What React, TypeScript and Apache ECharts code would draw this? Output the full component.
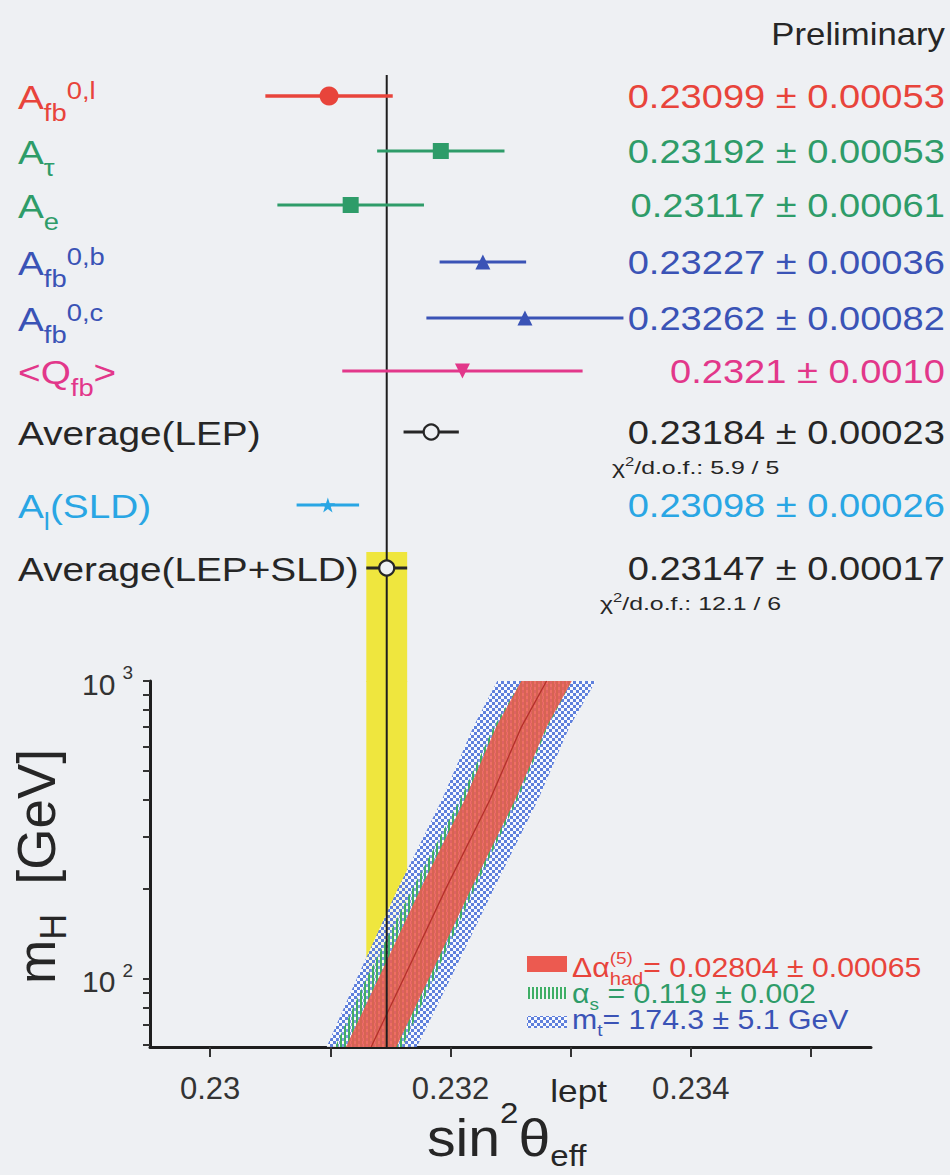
import React, { useEffect, useRef } from 'react';
import * as echarts from 'echarts';

// ---------------- data ----------------
const measurementValues = [0.23099, 0.23192, 0.23117, 0.23227, 0.23262, 0.2321, 0.23184, 0.23098, 0.23147];
const measurementErrors = [0.00053, 0.00053, 0.00061, 0.00036, 0.00082, 0.001, 0.00023, 0.00026, 0.00017];
const valueDecimals = [5, 5, 5, 5, 5, 4, 5, 5, 5];
type Part = { t: string; k?: 'sub' | 'sup' | 'subStack'; fs?: number; dy?: number };
const measurementLabels: Part[][] = [
  [{ t: 'A' }, { t: 'fb', k: 'sub' }, { t: '0,l', k: 'sup' }],
  [{ t: 'A' }, { t: 'τ', k: 'sub' }],
  [{ t: 'A' }, { t: 'e', k: 'sub' }],
  [{ t: 'A' }, { t: 'fb', k: 'sub' }, { t: '0,b', k: 'sup' }],
  [{ t: 'A' }, { t: 'fb', k: 'sub' }, { t: '0,c', k: 'sup' }],
  [{ t: '<' }, { t: 'Q' }, { t: 'fb', k: 'sub' }, { t: '>' }],
  [{ t: 'Average(LEP)' }],
  [{ t: 'A' }, { t: 'l', k: 'sub' }, { t: '(SLD)' }],
  [{ t: 'Average(LEP+SLD)' }],
];
const chi2Rows = [6, 8];
const chi2Values = ['5.9 / 5', '12.1 / 6'];

const X_MIN = 0.2295;
const X_MAX = 0.2355;
const xTickValues = [0.23, 0.231, 0.232, 0.233, 0.234, 0.235];
const xLabelValues = [0.23, 0.232, 0.234];
const MH_MIN = 59;
const MH_MAX = 1000;
const mHTickValues = [60, 70, 80, 90, 100, 200, 300, 400, 500, 600, 700, 800, 900, 1000];
const mHLabelValues = [100, 1000];

const bandMH = [59, 100, 200, 400, 700, 1000];
const alphaHadLo = [0.23113, 0.2314, 0.23175, 0.23212, 0.23238, 0.23259];
const alphaHadHi = [0.23155, 0.23182, 0.23217, 0.23254, 0.2328, 0.23301];
const alphaSLo = [0.23104, 0.2313, 0.23168, 0.23208, 0.23236, 0.23259];
const alphaSHi = [0.2316, 0.23186, 0.2322, 0.23256, 0.23281, 0.23301];
const mTopLo = [0.23097, 0.23122, 0.23156, 0.23193, 0.23219, 0.23239];
const mTopHi = [0.23172, 0.232, 0.23236, 0.23273, 0.23299, 0.23321];
const legendValues = ['= 0.02804 ± 0.00065', '= 0.119 ± 0.002', '= 174.3 ± 5.1 GeV'];

// ---------------- layout & style ----------------
const FONT = '"Liberation Sans", Arial, Helvetica, sans-serif';
const BG = '#eef0f3';
const RED = '#e8443b';
const GREEN = '#2e9c69';
const BLUE = '#3a53b6';
const MAGENTA = '#e2378a';
const CYAN = '#29a6e4';
const BLACK = '#262626';
const YELLOW = '#efe63e';
const rowColors = [RED, GREEN, GREEN, BLUE, BLUE, MAGENTA, BLACK, CYAN, BLACK];
const STAR = 'path://M50 0L61.8 35.1L98.1 35.1L68.7 56.8L79.9 91.9L50 70.2L20.1 91.9L31.3 56.8L1.9 35.1L38.2 35.1Z';
const rowSymbols = ['circle', 'rect', 'rect', 'triangle', 'triangle', 'triangle', 'circle', STAR, 'circle'];
const rowSymbolSize = [19, 16, 16, 15, 15, 15, 15, 15, 15];
const rowSymbolRotate = [0, 0, 0, 0, 0, 180, 0, 0, 0];
const rowHollow = [false, false, false, false, false, false, true, false, true];
const ROW_Y = [96, 151, 205, 262, 318, 371, 432, 505, 568];
const GRID_LEFT = 150;
const GRID_WIDTH = 721;
const TOP_Y0 = 60;
const JOIN_Y = 681;
const BOTTOM_Y = 1047;
const LINE_TOP = 75;
const YELLOW_TOP = 552;

let measureCtx: CanvasRenderingContext2D | null = null;
function measure(t: string, fs: number) {
  if (!measureCtx) measureCtx = document.createElement('canvas').getContext('2d');
  measureCtx!.font = `${fs}px ${FONT}`;
  return measureCtx!.measureText(t).width;
}

function compose(
  parts: Part[],
  o: { x: number; baseline: number; color: string; fs: number; subFs?: number; subDy?: number; supDy?: number; align?: string; scaleX?: number; rotation?: number; z?: number }
) {
  const subFs = o.subFs ?? Math.round(o.fs * 0.68);
  const subDy = o.subDy ?? o.fs * 0.36;
  const supDy = o.supDy ?? -o.fs * 0.33;
  let cx = 0;
  let prevX = 0;
  const children: any[] = [];
  for (const p of parts) {
    const size = p.fs ?? (p.k ? subFs : o.fs);
    const dy = p.dy ?? (p.k === 'sub' || p.k === 'subStack' ? subDy : p.k === 'sup' ? supDy : 0);
    const px = p.k === 'subStack' ? prevX : cx;
    const w = measure(p.t, size);
    children.push({
      type: 'text',
      x: px,
      y: dy - 0.35 * size,
      style: { text: p.t, fontSize: size, fontFamily: FONT, fill: o.color, align: 'left', verticalAlign: 'middle' },
    });
    prevX = px;
    cx = Math.max(cx, px + w);
  }
  const sx = o.scaleX ?? 1;
  const gx = o.align === 'right' ? o.x - cx * sx : o.align === 'center' ? o.x - (cx * sx) / 2 : o.x;
  return { type: 'group', x: gx, y: o.baseline, scaleX: sx, rotation: o.rotation ?? 0, z: o.z ?? 10, children };
}

function makePattern(kind: 'blue' | 'green') {
  const c = document.createElement('canvas');
  const g = c.getContext('2d')!;
  if (kind === 'blue') {
    c.width = 6;
    c.height = 6;
    g.fillStyle = 'rgba(250,251,255,0.85)';
    g.fillRect(0, 0, 6, 6);
    g.fillStyle = '#5f80dc';
    g.fillRect(0, 0, 3, 3);
    g.fillRect(3, 3, 3, 3);
  } else {
    c.width = 4;
    c.height = 4;
    g.fillStyle = 'rgba(255,255,255,0.2)';
    g.fillRect(0, 0, 4, 4);
    g.fillStyle = '#3fae66';
    g.fillRect(0, 0, 2, 4);
  }
  return { image: c, repeat: 'repeat' };
}

function bandSeries(lo: number[], hi: number[], fill: any, z: number, opacity = 1) {
  return {
    type: 'custom',
    xAxisIndex: 1,
    yAxisIndex: 1,
    z,
    silent: true,
    encode: { x: [0, 1], y: 2 },
    data: bandMH.map((m, i) => [lo[i], hi[i], m]),
    renderItem: (params: any, api: any) => {
      if (params.dataIndex !== 0) return { type: 'group', children: [] };
      const n = bandMH.length;
      const left: number[][] = [];
      const right: number[][] = [];
      for (let i = 0; i < n; i++) {
        left.push(api.coord([api.value(0, i), api.value(2, i)]));
        right.push(api.coord([api.value(1, i), api.value(2, i)]));
      }
      return { type: 'polygon', shape: { points: left.concat(right.reverse()) }, style: { fill, opacity } };
    },
  };
}

function buildOption() {
  const n = measurementValues.length;
  const avgIdx = n - 1;
  const avg = measurementValues[avgIdx];
  const avgErr = measurementErrors[avgIdx];
  const bluePat = makePattern('blue');
  const greenPat = makePattern('green');

  const graphics: any[] = [];
  graphics.push(compose([{ t: 'Preliminary' }], { x: 945, baseline: 45, color: BLACK, fs: 31, align: 'right', scaleX: 1.12 }));
  for (let i = 0; i < n; i++) {
    graphics.push(
      compose(measurementLabels[i], { x: 18, baseline: ROW_Y[i] + 13, color: rowColors[i], fs: 34, subFs: 24, subDy: 12, supDy: -10, scaleX: 1.14 })
    );
    const d = valueDecimals[i];
    graphics.push(
      compose([{ t: `${measurementValues[i].toFixed(d)} ± ${measurementErrors[i].toFixed(d)}` }], {
        x: 945, baseline: ROW_Y[i] + 12, color: rowColors[i], fs: 34, align: 'right', scaleX: 1.12,
      })
    );
  }
  chi2Rows.forEach((r, j) => {
    graphics.push(
      compose([{ t: 'χ' }, { t: '2', k: 'sup' }, { t: `/d.o.f.: ${chi2Values[j]}` }], {
        x: j === 0 ? 612 : 600, baseline: ROW_Y[r] + 42, color: BLACK, fs: 18, subFs: 12, supDy: -8, scaleX: 1.38,
      })
    );
  });
  // legend
  const swatches = [
    { y: 956, h: 16, fill: '#ec5a50' },
    { y: 987, h: 12, fill: greenPat },
    { y: 1016, h: 12, fill: bluePat },
  ];
  swatches.forEach((s) => graphics.push({ type: 'rect', shape: { x: 527, y: s.y, width: 40, height: s.h }, style: { fill: s.fill }, z: 10 }));
  graphics.push(compose([{ t: 'Δα' }, { t: '(5)', k: 'sup', fs: 17, dy: -13 }, { t: 'had', k: 'subStack', fs: 18, dy: 8 }, { t: legendValues[0] }], { x: 572, baseline: 977, color: RED, fs: 27, scaleX: 1.12 }));
  graphics.push(compose([{ t: 'α' }, { t: 's', k: 'sub' }, { t: ' ' + legendValues[1] }], { x: 572, baseline: 1003, color: GREEN, fs: 27, subFs: 17, subDy: 7, scaleX: 1.12 }));
  graphics.push(compose([{ t: 'm' }, { t: 't', k: 'sub' }, { t: legendValues[2] }], { x: 572, baseline: 1029, color: BLUE, fs: 27, subFs: 17, subDy: 7, scaleX: 1.12 }));
  // axis titles
  graphics.push(
    compose([{ t: 'sin' }, { t: '2', k: 'sup', fs: 30, dy: -34 }, { t: 'θ' }, { t: 'lept', k: 'sup', fs: 32, dy: -55 }, { t: 'eff', k: 'subStack', fs: 30, dy: 9 }], {
      x: 427, baseline: 1157, color: BLACK, fs: 52, scaleX: 1.1,
    })
  );
  graphics.push(
    compose([{ t: 'm' }, { t: 'H', k: 'sub', fs: 36, dy: 11 }, { t: '  [GeV]' }], {
      x: 55, baseline: 984, color: BLACK, fs: 53, rotation: Math.PI / 2,
    })
  );

  const series: any[] = [
    {
      type: 'custom', xAxisIndex: 0, yAxisIndex: 0, z: 1, silent: true,
      encode: { x: [0, 1], y: 2 },
      data: [[avg - avgErr, avg + avgErr, YELLOW_TOP]],
      renderItem: (_p: any, api: any) => {
        const a = api.coord([api.value(0), YELLOW_TOP]);
        const b = api.coord([api.value(1), JOIN_Y]);
        return { type: 'rect', shape: { x: a[0], y: a[1], width: b[0] - a[0], height: b[1] - a[1] + 1 }, style: { fill: YELLOW } };
      },
    },
    {
      type: 'custom', xAxisIndex: 1, yAxisIndex: 1, z: 1, silent: true,
      encode: { x: [0, 1], y: [2, 3] },
      data: [[avg - avgErr, avg + avgErr, MH_MIN, MH_MAX]],
      renderItem: (_p: any, api: any) => {
        const a = api.coord([api.value(0), api.value(3)]);
        const b = api.coord([api.value(1), api.value(2)]);
        return { type: 'rect', shape: { x: a[0], y: a[1], width: b[0] - a[0], height: b[1] - a[1] }, style: { fill: YELLOW } };
      },
    },
    bandSeries(mTopLo, mTopHi, bluePat, 2),
    bandSeries(alphaSLo, alphaSHi, greenPat, 3),
    bandSeries(alphaHadLo, alphaHadHi, '#ec5a50', 4, 0.88),
    {
      type: 'custom', xAxisIndex: 1, yAxisIndex: 1, z: 5, silent: true,
      encode: { x: [0, 1], y: 2 },
      data: bandMH.map((m, i) => [alphaHadLo[i], alphaHadHi[i], m]),
      renderItem: (params: any, api: any) => {
        if (params.dataIndex !== 0) return { type: 'group', children: [] };
        const pts: number[][] = [];
        for (let i = 0; i < bandMH.length; i++) pts.push(api.coord([(api.value(0, i) + api.value(1, i)) / 2, api.value(2, i)]));
        return { type: 'polyline', shape: { points: pts }, style: { stroke: '#b5302a', lineWidth: 1.3, fill: 'none' } };
      },
    },
    {
      type: 'custom', xAxisIndex: 0, yAxisIndex: 0, z: 6, silent: true,
      encode: { x: 0, y: 1 },
      data: [[avg, LINE_TOP]],
      renderItem: (_p: any, api: any) => {
        const a = api.coord([api.value(0), LINE_TOP]);
        const b = api.coord([api.value(0), JOIN_Y]);
        return { type: 'line', shape: { x1: a[0], y1: a[1], x2: b[0], y2: b[1] }, style: { stroke: '#1e1e1e', lineWidth: 2 } };
      },
    },
    {
      type: 'custom', xAxisIndex: 1, yAxisIndex: 1, z: 6, silent: true,
      encode: { x: 0, y: [1, 2] },
      data: [[avg, MH_MIN, MH_MAX]],
      renderItem: (_p: any, api: any) => {
        const a = api.coord([api.value(0), api.value(2)]);
        const b = api.coord([api.value(0), api.value(1)]);
        return { type: 'line', shape: { x1: a[0], y1: a[1], x2: b[0], y2: b[1] }, style: { stroke: '#1e1e1e', lineWidth: 2 } };
      },
    },
    {
      type: 'custom', xAxisIndex: 0, yAxisIndex: 0, z: 7, silent: true,
      encode: { x: [0, 1], y: 2 },
      data: measurementValues.map((v, i) => [v - measurementErrors[i], v + measurementErrors[i], ROW_Y[i]]),
      renderItem: (params: any, api: any) => {
        const a = api.coord([api.value(0), api.value(2)]);
        const b = api.coord([api.value(1), api.value(2)]);
        return {
          type: 'line',
          shape: { x1: a[0], y1: a[1], x2: b[0], y2: b[1] },
          style: { stroke: rowColors[params.dataIndex], lineWidth: params.dataIndex === 0 ? 3.5 : 3 },
        };
      },
    },
    {
      type: 'scatter', xAxisIndex: 0, yAxisIndex: 0, z: 8, silent: true,
      data: measurementValues.map((v, i) => ({
        value: [v, ROW_Y[i]],
        symbol: rowSymbols[i],
        symbolSize: rowSymbolSize[i],
        symbolRotate: rowSymbolRotate[i],
        itemStyle: rowHollow[i]
          ? { color: BG, borderColor: rowColors[i], borderWidth: 2.2, opacity: 1 }
          : { color: rowColors[i], opacity: 1 },
      })),
    },
  ];

  return {
    animation: false,
    backgroundColor: BG,
    textStyle: { fontFamily: FONT },
    grid: [
      { left: GRID_LEFT, width: GRID_WIDTH, top: TOP_Y0, height: JOIN_Y - TOP_Y0 },
      { left: GRID_LEFT, width: GRID_WIDTH, top: JOIN_Y, height: BOTTOM_Y - JOIN_Y },
    ],
    xAxis: [
      { gridIndex: 0, type: 'value', min: X_MIN, max: X_MAX, show: false },
      {
        gridIndex: 1, type: 'value', min: X_MIN, max: X_MAX,
        axisLine: { show: true, onZero: false, lineStyle: { color: '#1e1e1e', width: 3 } },
        axisTick: { show: true, customValues: xTickValues, length: 10, lineStyle: { color: '#333', width: 2 } },
        axisLabel: { customValues: xLabelValues, margin: 26, fontSize: 31, color: '#333', fontFamily: FONT, formatter: (v: number) => String(v) },
        splitLine: { show: false },
      },
    ],
    yAxis: [
      { gridIndex: 0, type: 'value', min: TOP_Y0, max: JOIN_Y, inverse: true, show: false },
      {
        gridIndex: 1, type: 'log', logBase: 10, min: MH_MIN, max: MH_MAX,
        axisLine: { show: true, onZero: false, lineStyle: { color: '#1e1e1e', width: 3 } },
        axisTick: { show: true, customValues: mHTickValues, length: 7, lineStyle: { color: '#333', width: 2 } },
        axisLabel: {
          customValues: mHLabelValues, margin: 17, color: '#333', fontFamily: FONT,
          formatter: (v: number) => `{b|10}{s|${Math.round(Math.log10(v))}}`,
          rich: {
            b: { fontSize: 30, lineHeight: 36, verticalAlign: 'bottom', fontFamily: FONT, color: '#333', padding: [0, 7, 0, 0] },
            s: { fontSize: 19, verticalAlign: 'top', fontFamily: FONT, color: '#333' },
          },
        },
        splitLine: { show: false },
        minorTick: { show: false },
      },
    ],
    graphic: { elements: graphics },
    series,
  };
}

export default function App() {
  const ref = useRef<HTMLDivElement>(null);
  useEffect(() => {
    const el = ref.current!;
    const chart = echarts.init(el, undefined, { renderer: 'svg' });
    chart.setOption(buildOption() as any);
    return () => chart.dispose();
  }, []);
  return (
    <div
      ref={ref}
      style={{ position: 'absolute', left: 0, top: 0, width: 950, height: 1175, background: BG }}
    />
  );
}
